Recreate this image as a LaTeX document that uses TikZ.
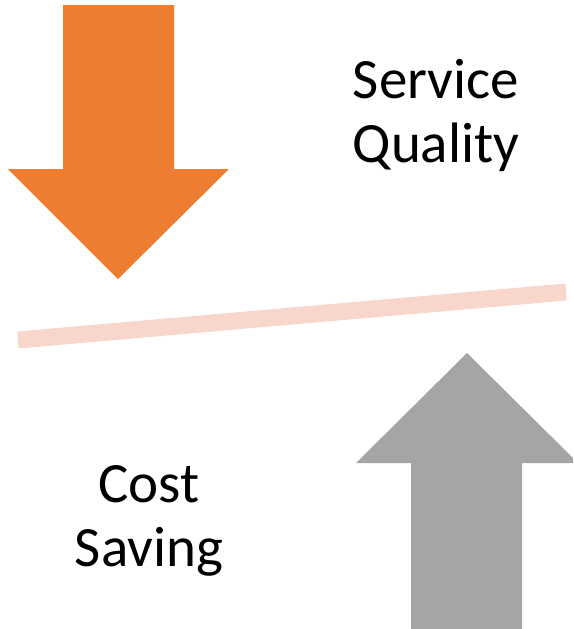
\documentclass[tikz,border=0pt]{standalone}
\usepackage{fontspec}
\setmainfont{Carlito}
\definecolor{arrOrange}{HTML}{ED7D31}
\definecolor{arrGray}{HTML}{A5A5A5}
\definecolor{beamPink}{HTML}{F8D6CB}
\tikzset{
  lbl/.style={font=\fontsize{57}{64}\selectfont, align=center, inner sep=0pt, anchor=base},
  beam/.style={line width=17pt, draw=beamPink},
}
\begin{document}
\begin{tikzpicture}[x=1pt,y=-1pt]
\useasboundingbox (0,0) rectangle (573,629);
\begin{scope}
\clip (0,0) rectangle (573,629);
% orange down arrow
\fill[arrOrange] (63,5) -- (174,5) -- (174,169) -- (229,169) -- (118,279) -- (8,169) -- (63,169) -- cycle;
% gray up arrow
\fill[arrGray] (467,353) -- (578,463) -- (522,463) -- (522,640) -- (411,640) -- (411,463) -- (356,463) -- cycle;
% beam
\coordinate (bl) at (18,340);
\coordinate (br) at (566,292);
\draw[beam] (bl) -- (br);
\end{scope}
\node[lbl] (sq) at (436,162) {Service\\Quality};
\node[lbl] (cs) at (149,566) {Cost\\Saving};
\end{tikzpicture}
\end{document}
